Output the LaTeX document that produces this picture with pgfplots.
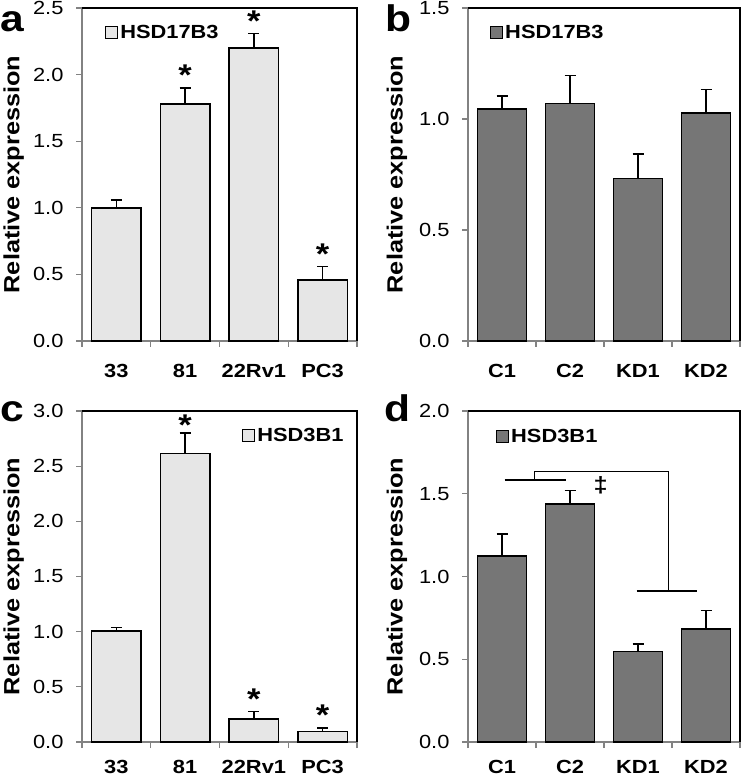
\documentclass[border=0pt]{standalone}
\usepackage{pgfplots}
\pgfplotsset{compat=1.18}
\usepackage{fontspec}
\setmainfont{Liberation Sans}[FakeStretch=1.15]
\definecolor{lightbar}{RGB}{230,230,230}
\definecolor{darkbar}{RGB}{118,118,118}
\definecolor{axgray}{RGB}{130,130,130}
\pgfplotsset{
  panel/.style={
    scale only axis,
    xmin=-0.5, xmax=3.5, ymin=0,
    axis x line*=bottom, axis y line*=left,
    axis line style={axgray, line width=1.3pt},
    xtick={0,1,2,3},
    major x tick style={draw=none},
    minor xtick={-0.5,0.5,1.5,2.5,3.5},
    minor x tick style={axgray, line width=1.3pt},
    minor tick length=6pt,
    major tick length=6pt,
    ytick style={axgray, line width=1.3pt},
    tick align=outside,
    xticklabel style={font=\fontsize{19}{19}\bfseries\selectfont, inner sep=0pt, yshift=-17pt},
    yticklabel style={font=\fontsize{19}{19}\selectfont, xshift=-9pt},
    /pgf/number format/assume math mode=true,
    yticklabel={\pgfmathprintnumber[fixed,fixed zerofill,precision=1]{\tick}},
    ylabel={Relative expression},
    every axis y label/.style={rotate=90, anchor=center, font=\fontsize{22}{22}\bfseries\selectfont},
    bar width=0.72,
    clip=false,
    legend style={draw=none, fill=none, font=\fontsize{19}{19}\bfseries\selectfont, inner sep=0pt, anchor=west},
    legend cell align=left,
    legend image code/.code={\draw[##1, line width=1pt] (0pt,-6pt) rectangle (12pt,6pt);},
  },
  lowpanel/.style={xticklabel style={yshift=5pt}},
  barstyle/.style={ybar, draw=black, line width=1.6pt, fill=#1,
    error bars/y dir=plus, error bars/y explicit,
    error bars/error bar style={black, line width=1.5pt},
    error bars/error mark options={black, line width=1.5pt, mark size=5.5pt, rotate=90}},
  starstyle/.style={draw=none, mark=none, nodes near coords={\textbf{*}},
    nodes near coords style={anchor=south, inner sep=0pt, yshift=2pt, font=\fontsize{30}{30}\bfseries\selectfont}},
}
\begin{document}
\begin{tikzpicture}
\useasboundingbox (0,0) rectangle (742pt,779pt);
% ---------- panel a
\begin{axis}[panel, at={(82pt,438pt)}, anchor=south west, width=275pt, height=333pt,
  ymax=2.5, ytick={0,0.5,1,1.5,2,2.5}, xticklabels={33,81,22Rv1,PC3},
  every axis y label/.append style={at={(rel axis cs:-0.248,0.5)}},
  legend style={at={(rel axis cs:0.084,0.925)}}]
\addplot[barstyle=lightbar] table[x=x, y=y, y error=e] {
x y e
0 1.00 0.06
1 1.78 0.12
2 2.20 0.11
3 0.46 0.10
};
\addlegendentry{HSD17B3}
\addplot[starstyle] coordinates {(1,1.90) (2,2.31) (3,0.56)};
\draw[black, line width=1.6pt] (rel axis cs:0,1) -- (rel axis cs:1,1) -- (rel axis cs:1,0);
\end{axis}
% ---------- panel b
\begin{axis}[panel, at={(468pt,438pt)}, anchor=south west, width=272pt, height=333pt,
  ymax=1.5, ytick={0,0.5,1,1.5}, xticklabels={C1,C2,KD1,KD2},
  every axis y label/.append style={at={(rel axis cs:-0.261,0.5)}},
  legend style={at={(rel axis cs:0.081,0.925)}}]
\addplot[barstyle=darkbar] table[x=x, y=y, y error=e] {
x y e
0 1.044 0.059
1 1.070 0.127
2 0.732 0.110
3 1.028 0.104
};
\addlegendentry{HSD17B3}
\draw[black, line width=1.6pt] (rel axis cs:0,1) -- (rel axis cs:1,1) -- (rel axis cs:1,0);
\end{axis}
% ---------- panel c
\begin{axis}[panel, lowpanel, at={(82pt,37pt)}, anchor=south west, width=275pt, height=331pt,
  ymax=3.0, ytick={0,0.5,1,1.5,2,2.5,3}, xticklabels={33,81,22Rv1,PC3},
  every axis y label/.append style={at={(rel axis cs:-0.248,0.5)}},
  legend style={at={(rel axis cs:0.582,0.926)}}]
\addplot[barstyle=lightbar] table[x=x, y=y, y error=e] {
x y e
0 1.006 0.034
1 2.616 0.184
2 0.208 0.070
3 0.094 0.033
};
\addlegendentry{HSD3B1}
\addplot[starstyle] coordinates {(1,2.76) (2,0.278) (3,0.127)};
\draw[black, line width=1.6pt] (rel axis cs:0,1) -- (rel axis cs:1,1) -- (rel axis cs:1,0);
\end{axis}
% ---------- panel d
\begin{axis}[panel, lowpanel, at={(468pt,37pt)}, anchor=south west, width=272pt, height=331pt,
  ymax=2.0, ytick={0,0.5,1,1.5,2}, xticklabels={C1,C2,KD1,KD2},
  every axis y label/.append style={at={(rel axis cs:-0.261,0.5)}},
  legend style={at={(rel axis cs:0.103,0.924)}}]
\addplot[barstyle=darkbar] table[x=x, y=y, y error=e] {
x y e
0 1.124 0.133
1 1.438 0.081
2 0.546 0.046
3 0.683 0.113
};
\addlegendentry{HSD3B1}
\addplot[black, line width=1.5pt] coordinates {(0.04,1.583) (0.94,1.583)};
\addplot[black, line width=1.5pt] coordinates {(0.48,1.583) (0.48,1.633) (2.45,1.633) (2.45,0.912)};
\addplot[black, line width=1.5pt] coordinates {(1.98,0.912) (2.87,0.912)};
\addplot[draw=none, mark=none, nodes near coords={\textbf{‡}},
  nodes near coords style={anchor=center, inner sep=0pt, font=\fontsize{22}{22}\bfseries\selectfont}]
  coordinates {(1.45,1.553)};
\draw[black, line width=1.6pt] (rel axis cs:0,1) -- (rel axis cs:1,1) -- (rel axis cs:1,0);
\end{axis}
% panel letters
\node[anchor=base west, inner sep=0pt, font=\fontsize{37}{37}\bfseries\selectfont] at (0pt,747pt) {a};
\node[anchor=base west, inner sep=0pt, font=\fontsize{37}{37}\bfseries\selectfont] at (385pt,747pt) {b};
\node[anchor=base west, inner sep=0pt, font=\fontsize{37}{37}\bfseries\selectfont] at (0pt,357pt) {c};
\node[anchor=base west, inner sep=0pt, font=\fontsize{37}{37}\bfseries\selectfont] at (384pt,357pt) {d};
\end{tikzpicture}
\end{document}
